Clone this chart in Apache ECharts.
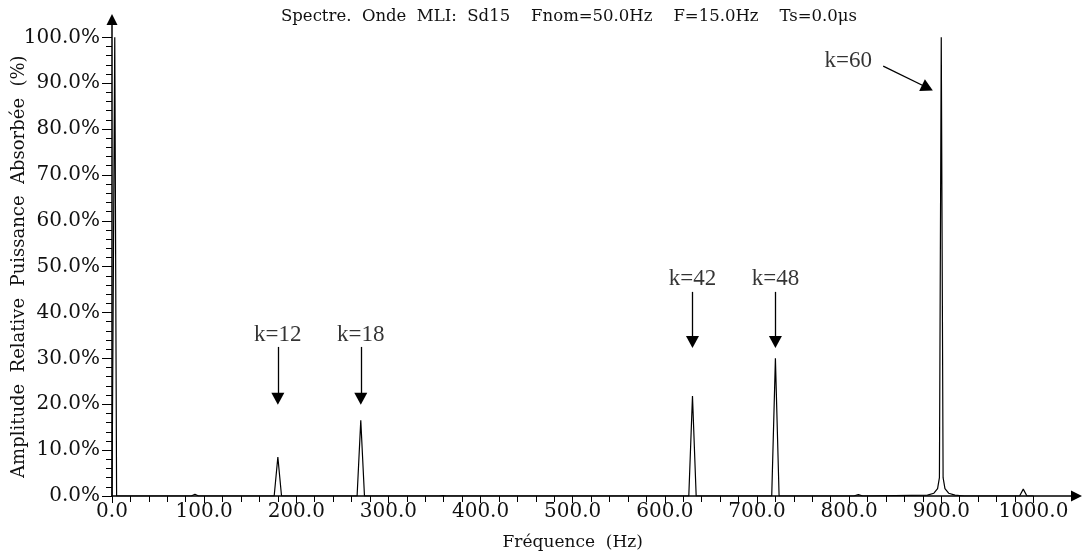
<!DOCTYPE html>
<html>
<head>
<meta charset="utf-8">
<script src="https://cdn.jsdelivr.net/npm/echarts@6/dist/echarts.min.js"></script>
<style>html,body{margin:0;padding:0;background:#fff}#c{width:1082px;height:554px}</style>
</head>
<body>
<div id="c"></div>
<script>
// Spectrum points (frequency in Hz, amplitude in %)
const freqs = [0, 3, 5, 86, 90, 94, 176, 180, 184, 266, 270, 274, 355, 359, 363,
  626, 630, 634, 716, 720, 724, 805, 810, 815, 885, 892, 896, 898, 900, 902, 904, 908, 915, 925,
  985, 989, 993, 1000];
const amps = [0, 100, 0, 0, 0.4, 0, 0, 8.5, 0, 0, 16.5, 0, 0, 0.1, 0,
  0, 21.8, 0, 0, 30.0, 0, 0, 0.3, 0, 0.2, 0.6, 1.6, 4, 100, 4, 1.6, 0.6, 0.2, 0,
  0, 1.5, 0, 0];

// Annotations: label, arrow start [Hz, %], arrow end [Hz, %], label position [Hz, %]
const annLabels = ['k=12', 'k=18', 'k=42', 'k=48', 'k=60'];
const annStart = [[180, 32.5], [270, 32.5], [630, 44.5], [720, 44.5], [837, 93.7]];
const annEnd = [[180, 21.2], [270, 21.2], [630, 33.6], [720, 33.6], [885, 89.0]];
const annText = [[180, 35.2], [270, 35.2], [630, 47.3], [720, 47.3], [799, 94.8]];

const xTicks = [0, 100, 200, 300, 400, 500, 600, 700, 800, 900, 1000];
const yTicks = [0, 10, 20, 30, 40, 50, 60, 70, 80, 90, 100];

const titleText = 'Spectre.  Onde  MLI:  Sd15    Fnom=50.0Hz    F=15.0Hz    Ts=0.0\u03bcs';
const xName = 'Fréquence  (Hz)';
const yName = 'Amplitude  Relative  Puissance  Absorbée  (%)';

const serif = 'DejaVu Serif';
const chart = echarts.init(document.getElementById('c'), null, {renderer: 'canvas'});
const spectrum = freqs.map((f, i) => [f, amps[i]]);

chart.setOption({
  animation: false,
  backgroundColor: '#ffffff',
  title: {
    text: titleText, left: 564, top: 3, textAlign: 'center',
    textStyle: {fontFamily: serif, fontSize: 16.5, fontWeight: 'normal', color: '#111'}
  },
  grid: [
    {left: 112, right: 48.6, top: 37.3, bottom: 58, containLabel: false, outerBoundsMode: 'none'},
    {left: 112, right: 5.5, top: 19.5, bottom: 58, containLabel: false, outerBoundsMode: 'none'}
  ],
  xAxis: [
    {
      type: 'value', gridIndex: 0, min: 0, max: 1000, interval: 100,
      name: xName, nameLocation: 'middle', nameGap: 38, nameMoveOverlap: false,
      nameTextStyle: {fontFamily: serif, fontSize: 17, color: '#111'},
      axisLine: {show: false},
      axisTick: {show: true, length: 7, lineStyle: {color: '#000', width: 1}},
      minorTick: {show: true, splitNumber: 5, length: 6, lineStyle: {color: '#000', width: 1}},
      axisLabel: {margin: 6, fontFamily: serif, fontSize: 20, color: '#111',
        formatter: v => v.toFixed(1)},
      splitLine: {show: false}
    },
    {
      type: 'value', gridIndex: 1, min: 0, max: 1,
      axisLine: {show: true, symbol: ['none', 'triangle'], symbolSize: [11, 11],
        lineStyle: {color: '#000', width: 1.5}},
      axisTick: {show: false}, axisLabel: {show: false}, splitLine: {show: false}
    }
  ],
  yAxis: [
    {
      type: 'value', gridIndex: 0, min: 0, max: 100, interval: 10,
      name: yName, nameLocation: 'middle', nameGap: 84, nameRotate: 90, nameMoveOverlap: false,
      nameTextStyle: {fontFamily: serif, fontSize: 18, color: '#111'},
      axisLine: {show: false},
      axisTick: {show: true, length: 10, lineStyle: {color: '#000', width: 1}},
      minorTick: {show: true, splitNumber: 5, length: 6, lineStyle: {color: '#000', width: 1}},
      axisLabel: {margin: 12, fontFamily: serif, fontSize: 20, color: '#111',
        formatter: v => v.toFixed(1) + '%'},
      splitLine: {show: false}
    },
    {
      type: 'value', gridIndex: 1, min: 0, max: 1,
      axisLine: {show: true, symbol: ['none', 'triangle'], symbolSize: [11, 11],
        lineStyle: {color: '#000', width: 1.5}},
      axisTick: {show: false}, axisLabel: {show: false}, splitLine: {show: false}
    }
  ],
  series: [
    {
      type: 'line', xAxisIndex: 0, yAxisIndex: 0, data: spectrum,
      showSymbol: false, symbol: 'none', lineStyle: {color: '#000', width: 1.2},
      markLine: {
        silent: true, symbol: ['none', 'triangle'], symbolSize: [13, 12],
        lineStyle: {color: '#000', width: 1.3, type: 'solid'},
        label: {show: false},
        data: annStart.map((s, i) => [{coord: s}, {coord: annEnd[i]}])
      }
    },
    {
      type: 'scatter', xAxisIndex: 0, yAxisIndex: 0, symbolSize: 0,
      data: annText.map((p, i) => ({value: p, name: annLabels[i]})),
      label: {show: true, position: 'inside', formatter: p => p.name,
        fontFamily: 'Liberation Serif', fontSize: 23, color: '#000'}
    }
  ]
});
</script>
</body>
</html>
